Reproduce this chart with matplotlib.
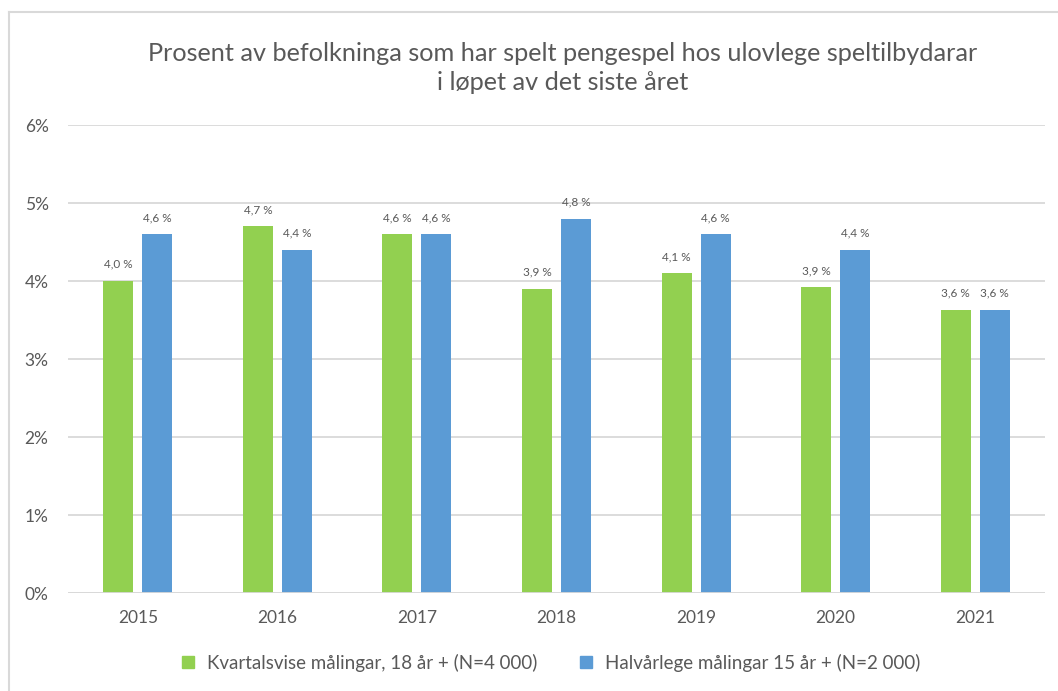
import matplotlib
matplotlib.use("Agg")
import matplotlib.pyplot as plt
from matplotlib.lines import Line2D
import numpy as np

years = ["2015", "2016", "2017", "2018", "2019", "2020", "2021"]
kvartal = [4.0, 4.7, 4.6, 3.9, 4.1, 3.92, 3.63]
halvaar = [4.6, 4.4, 4.6, 4.8, 4.6, 4.4, 3.63]
series_names = ["Kvartalsvise målingar, 18 år + (N=4 000)",
                "Halvårlege målingar 15 år + (N=2 000)"]
title = "Prosent av befolkninga som har spelt pengespel hos ulovlege speltilbydarar\ni løpet av det siste året"
yticks = [0, 1, 2, 3, 4, 5, 6]

plt.rcParams['font.family'] = ['Lato', 'DejaVu Sans']

green = "#92D050"
blue = "#5B9BD5"
text_col = "#595959"
grid_col = "#D9D9D9"

fig = plt.figure(figsize=(10.58, 6.91), dpi=100)
ax = fig.add_axes([68/1058, 1-593/691, (1045-68)/1058, (593-125)/691])

x = np.arange(len(years))
w = 0.215
off = 0.14
b1 = ax.bar(x - off, kvartal, w, color=green, zorder=3)
b2 = ax.bar(x + off, halvaar, w, color=blue, zorder=3)

def fmt(v):
    return f"{v:.1f}".replace(".", ",") + " %"

for bars, vals in ((b1, kvartal), (b2, halvaar)):
    for r, v in zip(bars, vals):
        ax.annotate(fmt(v), (r.get_x() + r.get_width()/2, r.get_height()),
                    xytext=(0, 8), textcoords="offset points",
                    ha="center", va="bottom", fontsize=8.5, color=text_col)

ax.set_xlim(-0.5, len(years) - 0.5)
ax.set_ylim(0, 6)
ax.set_yticks(yticks)
ax.set_yticklabels([f"{t}%" for t in yticks])
ax.set_xticks(x)
ax.set_xticklabels(years)
ax.tick_params(axis="both", length=0, labelsize=12.5, colors=text_col)
ax.tick_params(axis="y", pad=14)
ax.tick_params(axis="x", pad=12)
ax.yaxis.grid(True, color=grid_col, linewidth=1.3, zorder=0)
for s in ax.spines.values():
    s.set_visible(False)
ax.axhline(0, color=grid_col, linewidth=1.3, zorder=4)

fig.text(0.532, 1-68/691, title, ha="center", va="center", fontsize=18.2,
         color=text_col, linespacing=1.35)

handles = [Line2D([], [], marker="s", linestyle="", markersize=9, color=green),
           Line2D([], [], marker="s", linestyle="", markersize=9, color=blue)]
fig.legend(handles, series_names, loc="center", bbox_to_anchor=(0.515, 1-663/691),
           ncol=2, frameon=False, fontsize=13.5, handletextpad=0.0,
           columnspacing=1.6, labelcolor=text_col)

fig.add_artist(Line2D([9/1058, 9/1058], [0, 1-12/691], transform=fig.transFigure,
                      color=grid_col, linewidth=1.5))
fig.add_artist(Line2D([9/1058, 1], [1-12/691, 1-12/691], transform=fig.transFigure,
                      color=grid_col, linewidth=1.5))

fig.savefig("out.png", dpi=100)
